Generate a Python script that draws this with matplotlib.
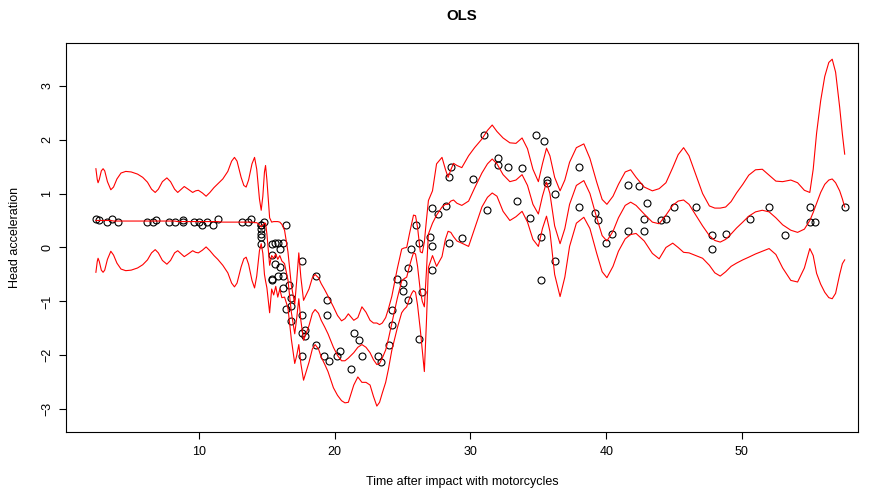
import numpy as np
import matplotlib.pyplot as plt

plt.rcParams["font.family"] = ["Liberation Sans", "DejaVu Sans"]

# -----------------------------
# data: motorcycle impact (time, head acceleration)
# -----------------------------
times = [2.4, 2.6, 3.2, 3.6, 4.0, 6.2, 6.6, 6.8, 7.8, 8.2,
         8.8, 8.8, 9.6, 10.0, 10.2, 10.6, 11.0, 11.4, 13.2, 13.6,
         13.8, 14.6, 14.6, 14.6, 14.6, 14.6, 14.6, 14.8, 15.4, 15.4,
         15.4, 15.4, 15.6, 15.6, 15.8, 15.8, 16.0, 16.0, 16.2, 16.2,
         16.2, 16.4, 16.4, 16.6, 16.8, 16.8, 16.8, 17.6, 17.6, 17.6,
         17.6, 17.8, 17.8, 18.6, 18.6, 19.2, 19.4, 19.4, 19.6, 20.2,
         20.4, 21.2, 21.4, 21.8, 22.0, 23.2, 23.4, 24.0, 24.2, 24.2,
         24.6, 25.0, 25.0, 25.4, 25.4, 25.6, 26.0, 26.2, 26.2, 26.4,
         27.0, 27.2, 27.2, 27.2, 27.6, 28.2, 28.4, 28.4, 28.6, 29.4,
         30.2, 31.0, 31.2, 32.0, 32.0, 32.8, 33.4, 33.8, 34.4, 34.8,
         35.2, 35.2, 35.4, 35.6, 35.6, 36.2, 36.2, 38.0, 38.0, 39.2,
         39.4, 40.0, 40.4, 41.6, 41.6, 42.4, 42.8, 42.8, 43.0, 44.0,
         44.4, 45.0, 46.6, 47.8, 47.8, 48.8, 50.6, 52.0, 53.2, 55.0,
         55.0, 55.4, 57.6]

accel = [0.0, -1.3, -2.7, 0.0, -2.7, -2.7, -2.7, -1.3, -2.7, -2.7,
         -1.3, -2.7, -2.7, -2.7, -5.4, -2.7, -5.4, 0.0, -2.7, -2.7,
         0.0, -13.3, -5.4, -5.4, -9.3, -16.0, -22.8, -2.7, -22.8, -32.1,
         -53.5, -54.9, -40.2, -21.5, -21.5, -50.8, -42.9, -26.8, -21.5, -50.8,
         -61.7, -5.4, -80.4, -59.0, -71.0, -91.1, -77.7, -37.5, -85.6, -123.1,
         -101.9, -99.1, -104.4, -112.5, -50.8, -123.1, -85.6, -72.3, -127.2, -123.1,
         -117.9, -134.0, -101.9, -108.4, -123.1, -123.1, -128.5, -112.5, -95.1, -81.8,
         -53.5, -64.4, -57.6, -72.3, -44.3, -26.8, -5.4, -107.1, -21.5, -65.6,
         -16.0, -45.6, -24.2, 9.5, 4.0, 12.0, -21.5, 37.5, 46.9, -17.4,
         36.2, 75.0, 8.1, 54.9, 48.2, 46.9, 16.0, 45.6, 1.3, 75.0,
         -16.0, -54.9, 69.6, 34.8, 32.1, -37.5, 22.8, 46.9, 10.7, 5.4,
         -1.3, -21.5, -13.3, 30.8, -10.7, 29.4, 0.0, -10.7, 14.7, -1.3,
         0.0, 10.7, 10.7, -26.8, -14.7, -13.3, 0.0, 10.7, -14.7, -2.7,
         10.7, -2.7, 10.7]

# OLS fit and half-width of its band
fit_x = [2.4, 2.5, 2.56, 2.65, 2.8, 2.93, 3.05, 3.25, 3.5, 3.7,
         3.95, 4.25, 4.6, 5.0, 5.47, 5.85, 6.2, 6.5, 6.77, 7.0,
         7.3, 7.63, 7.9, 8.2, 8.43, 8.65, 8.91, 9.2, 9.53, 9.75,
         9.95, 10.25, 10.52, 10.8, 11.1, 11.38, 11.75, 12.12, 12.4, 12.61,
         12.8, 13.1, 13.3, 13.47, 13.65, 13.9, 14.09, 14.25, 14.45, 14.58,
         14.7, 14.82, 14.9, 15.0, 15.2, 15.35, 15.5, 15.65, 15.8, 15.95,
         16.1, 16.3, 16.55, 16.8, 17.05, 17.2, 17.35, 17.5, 17.7, 18.1,
         18.35, 18.55, 18.8, 19.0, 19.25, 19.5, 19.9, 20.2, 20.5, 20.75,
         21.0, 21.4, 21.7, 22.0, 22.3, 22.6, 22.85, 23.1, 23.3, 23.5,
         23.75, 23.95, 24.2, 24.6, 24.93, 25.1, 25.3, 25.5, 25.67, 25.8,
         25.95, 26.1, 26.3, 26.45, 26.6, 26.75, 26.9, 27.2, 27.5, 27.9,
         28.15, 28.35, 28.55, 28.75, 29.0, 29.36, 29.86, 30.3, 30.84, 31.25,
         31.6, 31.95, 32.4, 32.9, 33.35, 33.8, 34.2, 34.6, 35.0, 35.3,
         35.6, 35.85, 36.2, 36.6, 36.95, 37.3, 37.8, 38.35, 38.8, 39.3,
         39.7, 40.05, 40.5, 40.9, 41.4, 41.8, 42.2, 42.8, 43.4, 43.9,
         44.4, 44.9, 45.3, 45.7, 46.1, 46.6, 47.1, 47.6, 48.0, 48.4,
         48.8, 49.2, 49.6, 50.06, 50.5, 51.0, 51.5, 52.0, 52.5, 53.0,
         53.6, 54.1, 54.6, 55.0, 55.25, 55.5, 55.8, 56.1, 56.4, 56.65,
         56.9, 57.2, 57.4, 57.57]

fit_y = [0.50, 0.50, 0.50, 0.50, 0.50, 0.50, 0.50, 0.50, 0.50, 0.49,
         0.49, 0.49, 0.49, 0.49, 0.49, 0.49, 0.49, 0.49, 0.49, 0.49,
         0.49, 0.49, 0.49, 0.49, 0.48, 0.48, 0.48, 0.48, 0.48, 0.48,
         0.48, 0.48, 0.48, 0.48, 0.48, 0.48, 0.47, 0.47, 0.47, 0.47,
         0.47, 0.47, 0.47, 0.47, 0.47, 0.47, 0.46, 0.46, 0.42, 0.38,
         0.42, 0.45, 0.45, 0.25, -0.33, -0.15, -0.20, -0.12, -0.22, -0.15,
         -0.25, -0.30, -0.60, -1.20, -1.60, -1.30, -0.95, -1.35, -1.72, -1.45,
         -1.22, -1.15, -1.22, -1.35, -1.47, -1.60, -1.85, -2.00, -2.10, -2.10,
         -2.05, -1.95, -1.85, -1.80, -1.85, -1.95, -2.08, -2.17, -2.15, -2.05,
         -1.90, -1.70, -1.41, -0.95, -0.62, -0.58, -0.55, -0.35, -0.20, -0.10,
         -0.12, -0.35, -0.80, -1.00, -1.10, -0.45, 0.25, 0.45, 0.60, 0.75,
         0.80, 0.80, 0.86, 0.88, 0.82, 0.78, 0.86, 1.10, 1.38, 1.55,
         1.64, 1.55, 1.35, 1.22, 1.25, 1.35, 1.15, 0.80, 0.62, 0.95,
         1.21, 1.00, 0.40, 0.07, 0.35, 0.80, 1.15, 1.24, 1.00, 0.55,
         0.22, 0.12, 0.30, 0.55, 0.78, 0.84, 0.78, 0.62, 0.47, 0.44,
         0.60, 0.78, 0.86, 0.88, 0.80, 0.60, 0.40, 0.22, 0.13, 0.10,
         0.15, 0.25, 0.36, 0.47, 0.58, 0.66, 0.69, 0.66, 0.55, 0.42,
         0.32, 0.28, 0.34, 0.50, 0.65, 0.82, 1.02, 1.17, 1.25, 1.27,
         1.20, 1.05, 0.90, 0.75]

band = [0.96, 0.76, 0.70, 0.76, 0.92, 0.96, 0.92, 0.72, 0.57, 0.63,
        0.78, 0.89, 0.92, 0.91, 0.87, 0.81, 0.72, 0.59, 0.53, 0.59,
        0.73, 0.80, 0.73, 0.59, 0.54, 0.59, 0.65, 0.60, 0.54, 0.57,
        0.58, 0.53, 0.47, 0.54, 0.63, 0.70, 0.80, 0.94, 1.13, 1.20,
        1.13, 0.83, 0.68, 0.65, 0.78, 1.08, 1.21, 0.99, 0.48, 0.31,
        0.53, 0.95, 1.07, 1.00, 0.88, 0.62, 0.68, 0.60, 0.70, 0.62,
        0.68, 0.62, 0.52, 0.50, 0.55, 0.70, 0.85, 0.80, 0.74, 0.68,
        0.66, 0.65, 0.66, 0.68, 0.69, 0.70, 0.75, 0.74, 0.74, 0.78,
        0.82, 0.60, 0.55, 0.70, 0.65, 0.60, 0.68, 0.77, 0.72, 0.65,
        0.60, 0.56, 0.50, 0.55, 0.59, 0.57, 0.55, 0.60, 0.65, 0.70,
        0.71, 0.72, 0.72, 0.90, 1.20, 0.95, 0.62, 0.60, 0.95, 0.92,
        0.65, 0.50, 0.58, 0.68, 0.70, 0.70, 0.84, 0.75, 0.63, 0.62,
        0.63, 0.60, 0.68, 0.72, 0.68, 0.68, 0.68, 0.65, 0.60, 0.60,
        0.63, 0.70, 0.90, 0.98, 0.90, 0.78, 0.70, 0.68, 0.65, 0.66,
        0.67, 0.68, 0.65, 0.62, 0.62, 0.60, 0.52, 0.50, 0.58, 0.65,
        0.60, 0.70, 0.86, 0.97, 0.90, 0.75, 0.60, 0.55, 0.60, 0.63,
        0.60, 0.60, 0.65, 0.70, 0.76, 0.78, 0.76, 0.68, 0.68, 0.80,
        0.93, 0.92, 0.72, 0.52, 0.80, 1.30, 1.70, 2.00, 2.18, 2.22,
        2.05, 1.55, 1.20, 0.98]

# -----------------------------
# standardise acceleration
# -----------------------------
times = np.array(times)
accel = np.array(accel)
accel_std = (accel - accel.mean()) / accel.std(ddof=1)

fit_x = np.array(fit_x)
fit_y = np.array(fit_y)
band = np.array(band)

# -----------------------------
# figure
# -----------------------------
fig = plt.figure(figsize=(8.7, 4.91), dpi=100)
ax = fig.add_axes([0.0759, 0.1202, 0.9103, 0.7922])

ax.plot(times, accel_std, linestyle="none", marker="o", markersize=5,
        markerfacecolor="none", markeredgecolor="black", markeredgewidth=0.8)

ax.plot(fit_x, fit_y, color="red", linewidth=0.8)
ax.plot(fit_x, fit_y + band, color="red", linewidth=0.8)
ax.plot(fit_x, fit_y - band, color="red", linewidth=0.8)

ax.set_xlim(0.2, 58.55)
ax.set_ylim(-3.42, 3.79)

ax.set_xticks([10, 20, 30, 40, 50])
ax.set_yticks([-3, -2, -1, 0, 1, 2, 3])
ax.set_yticklabels(["\u22123", "\u22122", "\u22121", "0", "1", "2", "3"],
                   rotation=90, va="center")

ax.tick_params(axis="both", direction="out", length=5, width=0.8,
               labelsize=9, colors="black")
ax.tick_params(axis="x", pad=5)
ax.tick_params(axis="y", pad=4)

for s in ax.spines.values():
    s.set_linewidth(0.8)
    s.set_color("black")

fig.text(0.531, 0.967, "OLS", ha="center", va="center",
         fontsize=10.8, fontweight="bold")
fig.text(0.531, 0.018, "Time after impact with motorcycles",
         ha="center", va="center", fontsize=9)
fig.text(0.017, 0.516, "Head acceleration", ha="center", va="center",
         rotation=90, fontsize=9)

fig.savefig("out.png", dpi=100)
plt.close(fig)
